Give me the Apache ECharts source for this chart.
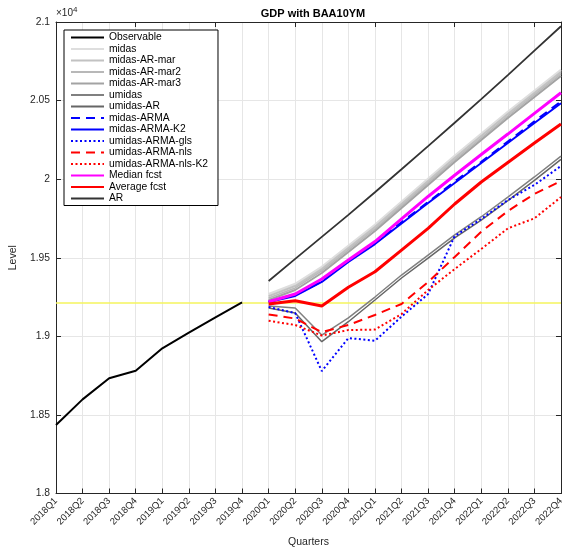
<!DOCTYPE html>
<html>
<head>
<meta charset="utf-8">
<script src="https://cdn.jsdelivr.net/npm/echarts@6/dist/echarts.min.js"></script>
<style>
html,body{margin:0;padding:0;background:#fff;}
#c{width:573px;height:553px;}
</style>
</head>
<body>
<div id="c"></div>
<script>
const categories = ['2018Q1','2018Q2','2018Q3','2018Q4','2019Q1','2019Q2','2019Q3','2019Q4',
  '2020Q1','2020Q2','2020Q3','2020Q4','2021Q1','2021Q2','2021Q3','2021Q4',
  '2022Q1','2022Q2','2022Q3','2022Q4'];
const yTickValues = [18000, 18500, 19000, 19500, 20000, 20500, 21000];
const yTickLabels = ['1.8', '1.85', '1.9', '1.95', '2', '2.05', '2.1'];

const observable = [18436, 18599, 18733, 18781, 18924, 19023, 19121, 19216];
const lastObservable = 19216;

const midas        = [19269, 19333, 19441, 19575, 19708, 19855, 20001, 20147, 20287, 20427, 20561, 20694];
const midasARmar   = [19256, 19320, 19428, 19562, 19695, 19842, 19988, 20134, 20274, 20414, 20548, 20681];
const midasARmar2  = [19244, 19308, 19416, 19550, 19683, 19830, 19976, 20122, 20262, 20402, 20536, 20669];
const midasARmar3  = [19231, 19295, 19403, 19537, 19670, 19817, 19963, 20109, 20249, 20389, 20523, 20656];
const umidas       = [19193, 19180, 19008, 19117, 19250, 19390, 19517, 19645, 19761, 19886, 20014, 20147];
const umidasAR     = [19180, 19148, 18966, 19093, 19231, 19371, 19498, 19626, 19740, 19864, 19992, 20126];
const midasARMA    = [19222, 19262, 19350, 19480, 19592, 19726, 19855, 19985, 20110, 20240, 20368, 20495];
const midasARMAK2  = [19218, 19257, 19346, 19473, 19587, 19718, 19848, 19976, 20103, 20230, 20357, 20483];
const umidasARMAgls   = [19187, 19148, 18779, 18989, 18972, 19125, 19269, 19638, 19747, 19867, 19963, 20084];
const umidasARMAnls   = [19139, 19113, 19027, 19072, 19136, 19206, 19346, 19505, 19666, 19797, 19906, 19988];
const umidasARMAnlsK2 = [19099, 19072, 19005, 19040, 19043, 19142, 19295, 19428, 19556, 19687, 19751, 19886];
const medianFcst   = [19220, 19269, 19365, 19486, 19603, 19747, 19890, 20025, 20157, 20287, 20419, 20550];
const averageFcst  = [19206, 19227, 19193, 19312, 19411, 19549, 19687, 19842, 19982, 20106, 20230, 20351];
const arFcst       = [19352, 19493, 19633, 19773, 19917, 20063, 20210, 20359, 20509, 20662, 20818, 20973];

const nObs = observable.length;
const padObs = arr => arr.concat(new Array(categories.length - arr.length).fill(null));
const padFc = arr => new Array(nObs).fill(null).concat(arr);

const FONT = 'Liberation Sans, Arial, Helvetica, sans-serif';

const specs = [
  {name:'Observable', data: padObs(observable), color:'#000000', width:2, type:'solid'},
  {name:'midas', data: padFc(midas), color:'#dedede', width:2.5, type:'solid'},
  {name:'midas-AR-mar', data: padFc(midasARmar), color:'#c2c2c2', width:2, type:'solid'},
  {name:'midas-AR-mar2', data: padFc(midasARmar2), color:'#b8b8b8', width:1.5, type:'solid'},
  {name:'midas-AR-mar3', data: padFc(midasARmar3), color:'#a3a3a3', width:2, type:'solid'},
  {name:'umidas', data: padFc(umidas), color:'#808080', width:1.5, type:'solid'},
  {name:'umidas-AR', data: padFc(umidasAR), color:'#666666', width:1.5, type:'solid'},
  {name:'midas-ARMA', data: padFc(midasARMA), color:'#0000ff', width:2, type:[9,6]},
  {name:'midas-ARMA-K2', data: padFc(midasARMAK2), color:'#0000ff', width:2, type:'solid'},
  {name:'umidas-ARMA-gls', data: padFc(umidasARMAgls), color:'#0000ff', width:2, type:[2,2.5]},
  {name:'umidas-ARMA-nls', data: padFc(umidasARMAnls), color:'#ff0000', width:2, type:[9,6]},
  {name:'umidas-ARMA-nls-K2', data: padFc(umidasARMAnlsK2), color:'#ff0000', width:2, type:[2,2.5]},
  {name:'Median fcst', data: padFc(medianFcst), color:'#ff00ff', width:3, type:'solid'},
  {name:'Average fcst', data: padFc(averageFcst), color:'#ff0000', width:3, type:'solid'},
  {name:'AR', data: padFc(arFcst), color:'#333333', width:1.8, type:'solid'}
];

const series = specs.map((s, i) => ({
  name: s.name,
  type: 'line',
  data: s.data,
  symbol: 'none',
  showSymbol: false,
  connectNulls: false,
  silent: true,
  animation: false,
  z: 3 + i,
  color: s.color,
  lineStyle: {color: s.color, width: s.width, type: s.type, cap: 'butt'},
  itemStyle: {color: s.color}
}));

series[0].markLine = {
  silent: true,
  symbol: ['none','none'],
  label: {show:false},
  lineStyle: {color:'#f4f45c', width:1.5, type:'solid'},
  data: [{yAxis: lastObservable}],
  animation: false,
  z: 1
};

const chart = echarts.init(document.getElementById('c'), null, {renderer:'canvas'});
chart.setOption({
  backgroundColor: '#ffffff',
  animation: false,
  title: {
    text: 'GDP with BAA10YM',
    left: 308, top: 3, textAlign: 'center',
    textStyle: {fontFamily: FONT, fontSize: 11, fontWeight: 'bold', color: '#000'}
  },
  graphic: [{
    type: 'text', left: 56, top: 6,
    style: {
      text: '×10{s|4}',
      rich: {s: {fontSize: 8, verticalAlign: 'top', padding: [0,0,7,0], fontFamily: FONT, fill:'#262626'}},
      font: '10px ' + FONT, fill: '#262626'
    }
  }],
  legend: {
    orient: 'vertical',
    left: 64, top: 30,
    padding: [2.5, 10, 2, 6],
    itemWidth: 33, itemHeight: 10, itemGap: 1.5,
    itemStyle: {color: 'rgba(0,0,0,0)', borderColor: 'rgba(0,0,0,0)', borderWidth: 0, opacity: 0},
    backgroundColor: '#ffffff',
    borderColor: '#000000', borderWidth: 1, borderRadius: 0,
    textStyle: {fontFamily: FONT, fontSize: 10.3, color: '#000', lineHeight: 10},
    selectedMode: false,
    data: specs.map(s => s.name)
  },
  grid: {left: 56, right: 12, top: 22, bottom: 59.5, containLabel: false},
  xAxis: [{
    type: 'category', data: categories, boundaryGap: false,
    axisLine: {show: true, lineStyle: {color: '#262626', width: 1}},
    axisTick: {show: true, inside: true, length: 5, alignWithLabel: true, lineStyle: {color: '#262626'}},
    axisLabel: {rotate: 45, fontFamily: FONT, fontSize: 9.5, color: '#262626', margin: 6, interval: 0},
    splitLine: {show: true, lineStyle: {color: '#e6e6e6', width: 1}},
    name: 'Quarters', nameLocation: 'middle', nameGap: 43,
    nameTextStyle: {fontFamily: FONT, fontSize: 10.5, color: '#262626'}
  }, {
    type: 'category', data: categories, boundaryGap: false, position: 'top',
    axisLine: {show: true, lineStyle: {color: '#262626', width: 1}},
    axisTick: {show: true, inside: true, length: 5, lineStyle: {color: '#262626'}},
    axisLabel: {show: false}, splitLine: {show: false}
  }],
  yAxis: [{
    type: 'value', min: 18000, max: 21000, interval: 500,
    axisLine: {show: true, lineStyle: {color: '#262626', width: 1}},
    axisTick: {show: true, inside: true, length: 5, lineStyle: {color: '#262626'}},
    axisLabel: {fontFamily: FONT, fontSize: 10.3, color: '#262626', margin: 6,
      formatter: v => { const k = yTickValues.indexOf(v); return k >= 0 ? yTickLabels[k] : ''; }},
    splitLine: {show: true, lineStyle: {color: '#e6e6e6', width: 1}},
    name: 'Level', nameLocation: 'middle', nameGap: 33, nameRotate: 90,
    nameTextStyle: {fontFamily: FONT, fontSize: 10.5, color: '#262626'}
  }, {
    type: 'value', min: 18000, max: 21000, interval: 500, position: 'right',
    axisLine: {show: true, lineStyle: {color: '#262626', width: 1}},
    axisTick: {show: true, inside: true, length: 5, lineStyle: {color: '#262626'}},
    axisLabel: {show: false}, splitLine: {show: false}
  }],
  series: series
});
</script>
</body>
</html>
